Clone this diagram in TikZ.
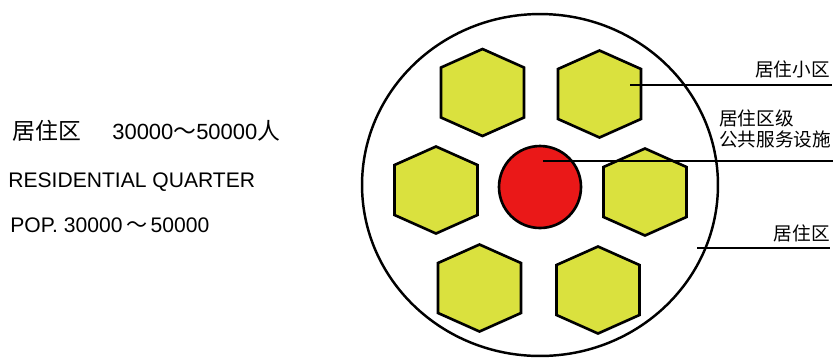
\documentclass[tikz,border=0pt]{standalone}
\usepackage{fontspec}
\setmainfont{Liberation Sans}
\newfontfamily\cjk{Noto Sans CJK SC}
\usetikzlibrary{shapes.geometric}
\definecolor{hexYellow}{RGB}{218,225,62}
\definecolor{coreRed}{RGB}{234,24,24}
\tikzset{
  hexcell/.pic={\draw[hexline] (0,-43.5) -- (41.5,-25) -- (41.5,25) -- (0,43.5) -- (-41.5,25) -- (-41.5,-25) -- cycle;}
}

\begin{document}
\begin{tikzpicture}[x=0.02cm, y=-0.02cm,
    hexline/.style={draw=black, line width=1.5pt, fill=hexYellow},
    leader/.style={line width=0.6pt},
    tagcn/.style={font=\cjk\fontsize{10.6}{12}\selectfont, inner sep=0pt},
    infotext/.style={font=\fontsize{12}{14}\selectfont, anchor=base west, inner sep=0pt}]
    \useasboundingbox (0,0) rectangle (835,360);
    \node[infotext, font=\cjk\fontsize{13}{15}\selectfont] (quartercn) at (12,139) {居住区};
    \node[infotext, font=\fontsize{12.5}{15}\selectfont] (quarterpop) at (112,139) {30000{\cjk\fontsize{13}{15}\selectfont ～}50000{\cjk\fontsize{13}{15}\selectfont 人}};
    \node[infotext] (quarteren) at (8,187) {RESIDENTIAL QUARTER};
    \node[infotext] (quarterpopen) at (10,232) {POP. 30000\,{\cjk ～}\,50000};

    \node[ellipse, draw, line width=1.4pt, minimum width=7.12cm, minimum height=6.84cm, inner sep=0pt] (quarter) at (540,185) {};
    \pic at (482.5,92.5) {hexcell};
    \pic at (599.5,94) {hexcell};
    \pic at (436,190) {hexcell};
    \pic at (645,192) {hexcell};
    \pic at (479.5,288) {hexcell};
    \pic at (598,290) {hexcell};
    \node[circle, draw, line width=1.5pt, fill=coreRed, minimum size=1.64cm, inner sep=0pt] (core) at (540,187) {};

    \coordinate (xqDot) at (630,85);
    \coordinate (xqEnd) at (832,85);
    \coordinate (coreDot) at (543,161);
    \coordinate (coreEnd) at (833,161);
    \coordinate (jzqDot) at (697,248);
    \coordinate (jzqEnd) at (830,248);
    \draw[leader] (xqDot) -- (xqEnd);
    \draw[leader] (coreDot) -- (coreEnd);
    \draw[leader] (jzqDot) -- (jzqEnd);

    \node[tagcn, anchor=base east] (xqtag) at (830,76) {居住小区};
    \node[tagcn, anchor=base west] (coretag) at (719,125) {居住区级};
    \node[tagcn, anchor=base west] (coretagb) at (719,146) {公共服务设施};
    \node[tagcn, anchor=base east] (jzqtag) at (830,240) {居住区};
\end{tikzpicture}
\end{document}
